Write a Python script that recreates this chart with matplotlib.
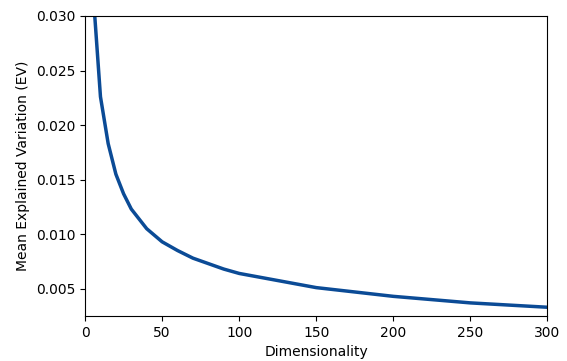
import matplotlib
matplotlib.use("Agg")
import matplotlib.pyplot as plt

dims = [5, 10, 15, 20, 25, 30, 40, 50, 60, 70, 80, 90, 100, 150, 200, 250, 300]
mean_ev = [0.0326, 0.0226, 0.0183, 0.0155, 0.0137, 0.0123, 0.0105, 0.0093,
           0.0085, 0.0078, 0.0073, 0.0068, 0.0064, 0.0051, 0.0043, 0.0037, 0.0033]
xticks = [0, 50, 100, 150, 200, 250, 300]
yticks = [0.005, 0.010, 0.015, 0.020, 0.025, 0.030]

fig = plt.figure(figsize=(5.67, 3.61), dpi=100)
ax = fig.add_axes([0.150, 0.1247, 0.8156, 0.831])
ax.plot(dims, mean_ev, color="#0b4b96", linewidth=2.5)
ax.set_xlim(0, 300)
ax.set_ylim(0.0025, 0.030)
ax.set_xticks(xticks)
ax.set_yticks(yticks)
ax.set_yticklabels([f"{v:.3f}" for v in yticks])
ax.tick_params(labelsize=10)
ax.set_xlabel("Dimensionality", fontsize=10)
ax.set_ylabel("Mean Explained Variation (EV)", fontsize=10)
fig.savefig("out.png", dpi=100)
